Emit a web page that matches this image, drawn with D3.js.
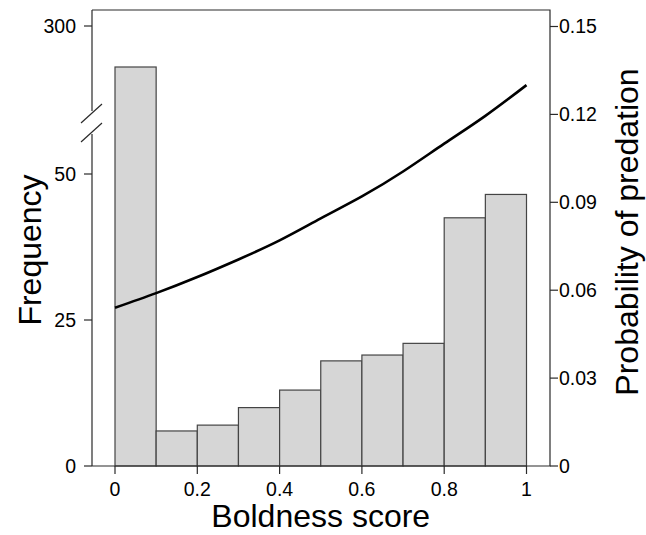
<!DOCTYPE html>
<html>
<head>
<meta charset="utf-8">
<script src="https://cdn.jsdelivr.net/npm/d3@7"></script>
<style>
  body { margin: 0; background: #fff; }
  text { font-family: "Liberation Sans", Arial, Helvetica, sans-serif; fill: #000; }
</style>
</head>
<body>
<div id="chart"></div>
<script>
const width = 646,
    height = 535;

// Histogram bins (boldness score) and counts
const binStarts = [0, 0.1, 0.2, 0.3, 0.4, 0.5, 0.6, 0.7, 0.8, 0.9];
const counts = [275, 6, 7, 10, 13, 18, 19, 21, 42.5, 46.5];

// Predation probability curve
const curveX = [0, 0.1, 0.2, 0.3, 0.4, 0.5, 0.6, 0.7, 0.8, 0.9, 1.0];
const curveP = [0.054, 0.059, 0.0645, 0.0705, 0.077, 0.0845, 0.092, 0.1005, 0.110, 0.1195, 0.130];

// Tick labels
const xTicks = [0, 0.2, 0.4, 0.6, 0.8, 1];
const xTickLabels = ["0", "0.2", "0.4", "0.6", "0.8", "1"];
const leftTicks = [0, 25, 50, 300];
const rightTicks = [0, 0.03, 0.06, 0.09, 0.12, 0.15];
const rightTickLabels = ["0", "0.03", "0.06", "0.09", "0.12", "0.15"];

const box = { left: 92, right: 550, top: 10, bottom: 466 };

const x = d3.scaleLinear().domain([0, 1]).range([115, 526.5]);
// broken axis: linear 0..60, compressed gap, then 250..300
const yLeft = d3.scaleLinear().domain([0, 60, 250, 300]).range([466, 115.6, 108, 26]);
const yRight = d3.scaleLinear().domain([0, 0.15]).range([466, 26.5]);

const svg = d3.select("#chart")
    .append("svg")
    .attr("width", width)
    .attr("height", height);

// bars
svg.append("g")
    .selectAll("rect")
    .data(binStarts)
    .enter()
    .append("rect")
    .attr("x", d => x(d))
    .attr("width", d => x(d + 0.1) - x(d))
    .attr("y", (d, i) => yLeft(counts[i]))
    .attr("height", (d, i) => yLeft(0) - yLeft(counts[i]))
    .style("fill", "#d6d6d6")
    .style("stroke", "#444")
    .style("stroke-width", 1.2);

// curve
const line = d3.line()
    .x((d, i) => x(curveX[i]))
    .y(d => yRight(d))
    .curve(d3.curveNatural);

svg.append("path")
    .datum(curveP)
    .attr("d", line)
    .style("fill", "none")
    .style("stroke", "#000")
    .style("stroke-width", 2.6);

const axisColor = "#2a2a2a";

// frame: top, right, bottom
svg.append("path")
    .attr("d", `M${box.left},${box.top}H${box.right}V${box.bottom}H${box.left}`)
    .style("fill", "none")
    .style("stroke", axisColor)
    .style("stroke-width", 1.2);

// left axis line with a break
const gapTop = 111, gapBottom = 134;
svg.append("path")
    .attr("d", `M${box.left},${box.top}V${gapTop}M${box.left},${gapBottom}V${box.bottom}`)
    .style("fill", "none")
    .style("stroke", axisColor)
    .style("stroke-width", 1.2);

[[81, 123, 102, 104], [81, 142, 102, 123]].forEach(s => {
    svg.append("line")
        .attr("x1", s[0]).attr("y1", s[1])
        .attr("x2", s[2]).attr("y2", s[3])
        .style("stroke", axisColor)
        .style("stroke-width", 1.2);
});

// left ticks
const left = svg.append("g");
left.selectAll("line")
    .data(leftTicks)
    .enter()
    .append("line")
    .attr("x1", box.left - 8).attr("x2", box.left)
    .attr("y1", d => yLeft(d)).attr("y2", d => yLeft(d))
    .style("stroke", axisColor).style("stroke-width", 1.2);
left.selectAll("text")
    .data(leftTicks)
    .enter()
    .append("text")
    .attr("x", 76)
    .attr("y", d => yLeft(d))
    .attr("dy", "0.35em")
    .attr("text-anchor", "end")
    .style("font-size", "19.5px")
    .text(d => d);

// right ticks
const right = svg.append("g");
right.selectAll("line")
    .data(rightTicks)
    .enter()
    .append("line")
    .attr("x1", box.right).attr("x2", box.right + 8)
    .attr("y1", d => yRight(d)).attr("y2", d => yRight(d))
    .style("stroke", axisColor).style("stroke-width", 1.2);
right.selectAll("text")
    .data(rightTicks)
    .enter()
    .append("text")
    .attr("x", 559)
    .attr("y", d => yRight(d))
    .attr("dy", "0.35em")
    .attr("text-anchor", "start")
    .style("font-size", "19.5px")
    .text((d, i) => rightTickLabels[i]);

// bottom ticks
const bottom = svg.append("g");
bottom.selectAll("line")
    .data(xTicks)
    .enter()
    .append("line")
    .attr("x1", d => x(d)).attr("x2", d => x(d))
    .attr("y1", box.bottom).attr("y2", box.bottom + 8)
    .style("stroke", axisColor).style("stroke-width", 1.2);
bottom.selectAll("text")
    .data(xTicks)
    .enter()
    .append("text")
    .attr("x", d => x(d))
    .attr("y", 496)
    .attr("text-anchor", "middle")
    .style("font-size", "19.5px")
    .text((d, i) => xTickLabels[i]);

// axis titles
svg.append("text")
    .attr("x", (x(0) + x(1)) / 2)
    .attr("y", 527)
    .attr("text-anchor", "middle")
    .style("font-size", "32px")
    .text("Boldness score");

svg.append("text")
    .attr("transform", "translate(41,250) rotate(-90)")
    .attr("text-anchor", "middle")
    .style("font-size", "32px")
    .text("Frequency");

svg.append("text")
    .attr("transform", "translate(638,232) rotate(-90)")
    .attr("text-anchor", "middle")
    .style("font-size", "32px")
    .text("Probability of predation");
</script>
</body>
</html>
